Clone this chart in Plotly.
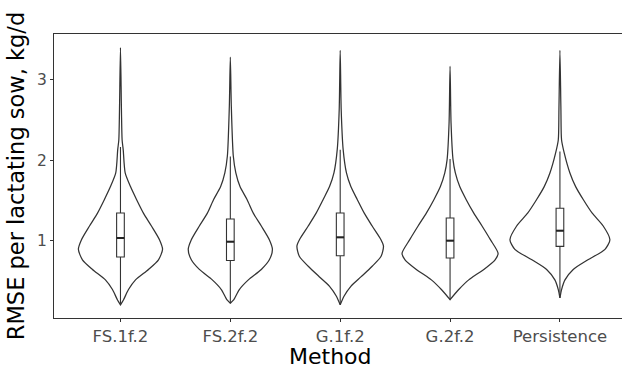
import plotly.graph_objects as go

methods = ["FS.1f.2", "FS.2f.2", "G.1f.2", "G.2f.2", "Persistence"]

# Violin outlines: RMSE level and half-width (in category units)
fs1_y  = [3.40, 2.61, 2.25, 2.13, 1.84, 1.67, 1.51, 1.34, 1.18, 1.01, 0.89, 0.76, 0.64, 0.51, 0.39, 0.26, 0.20]
fs1_hw = [0.0, 0.009, 0.015, 0.025, 0.043, 0.091, 0.146, 0.209, 0.282, 0.355, 0.383, 0.346, 0.255, 0.137, 0.073, 0.027, 0.0]

fs2_y  = [3.28, 2.67, 2.05, 1.84, 1.67, 1.51, 1.34, 1.18, 1.01, 0.89, 0.76, 0.64, 0.51, 0.39, 0.26, 0.22]
fs2_hw = [0.0, 0.009, 0.027, 0.050, 0.088, 0.152, 0.209, 0.282, 0.355, 0.383, 0.355, 0.282, 0.164, 0.082, 0.030, 0.0]

g1_y  = [3.365, 2.63, 2.13, 1.84, 1.67, 1.51, 1.34, 1.18, 1.01, 0.93, 0.80, 0.68, 0.55, 0.43, 0.31, 0.20]
g1_hw = [0.0, 0.009, 0.027, 0.057, 0.097, 0.155, 0.219, 0.291, 0.371, 0.394, 0.371, 0.291, 0.191, 0.097, 0.036, 0.0]

g2_y  = [3.166, 2.46, 2.005, 1.84, 1.67, 1.51, 1.34, 1.18, 1.01, 0.84, 0.76, 0.64, 0.51, 0.39, 0.264]
g2_hw = [0.0, 0.009, 0.027, 0.048, 0.088, 0.146, 0.216, 0.291, 0.367, 0.437, 0.410, 0.307, 0.170, 0.079, 0.0]

per_y  = [3.365, 2.63, 2.25, 2.09, 1.84, 1.67, 1.51, 1.34, 1.18, 1.01, 0.89, 0.76, 0.64, 0.51, 0.39, 0.285]
per_hw = [0.0, 0.009, 0.015, 0.039, 0.091, 0.143, 0.212, 0.294, 0.394, 0.455, 0.410, 0.255, 0.121, 0.046, 0.015, 0.0]

violin_y = [fs1_y, fs2_y, g1_y, g2_y, per_y]
violin_hw = [fs1_hw, fs2_hw, g1_hw, g2_hw, per_hw]

# Box plot statistics
q1 = [0.795, 0.752, 0.811, 0.782, 0.927]
median = [1.031, 0.985, 1.039, 0.998, 1.122]
q3 = [1.342, 1.267, 1.342, 1.280, 1.400]
lower = [0.214, 0.223, 0.201, 0.264, 0.285]
upper = [2.163, 2.046, 2.129, 2.014, 2.108]

yticks = [1, 2, 3]

line_col = "#333333"
fig = go.Figure()

# Boxes (box layer is drawn beneath scatter layer, so violins are outline-only)
for i in range(len(methods)):
    fig.add_trace(go.Box(
        x=[i], q1=[q1[i]], median=[median[i]], q3=[q3[i]],
        lowerfence=[lower[i]], upperfence=[upper[i]],
        width=0.07, whiskerwidth=0, fillcolor="white",
        line=dict(color=line_col, width=1.1), showlegend=False,
        boxpoints=False, hoverinfo="skip"))

for i, (ys, hws) in enumerate(zip(violin_y, violin_hw)):
    xs = [i - h for h in hws] + [i + h for h in reversed(hws)]
    yy = list(ys) + list(reversed(ys))
    fig.add_trace(go.Scatter(
        x=xs, y=yy, mode="lines",
        line=dict(color=line_col, width=1.25, shape="spline", smoothing=0.7),
        showlegend=False, hoverinfo="skip"))

for i in range(len(methods)):
    fig.add_trace(go.Scatter(
        x=[i - 0.035, i + 0.035], y=[median[i], median[i]], mode="lines",
        line=dict(color="#222222", width=2), showlegend=False, hoverinfo="skip"))

fig.update_layout(
    width=622, height=368,
    margin=dict(l=54, r=0, t=34, b=50),
    paper_bgcolor="white", plot_bgcolor="white",
    font=dict(family="DejaVu Sans", color="black"),
    xaxis=dict(
        range=[-0.605, 4.565], tickvals=list(range(len(methods))), ticktext=methods,
        showline=True, linecolor=line_col, linewidth=1.1, mirror=True,
        ticks="outside", ticklen=3, tickcolor=line_col, showgrid=False, zeroline=False,
        tickfont=dict(size=16.5, color="#4d4d4d")),
    yaxis=dict(
        range=[0.036, 3.568], tickvals=yticks, ticktext=[str(v) for v in yticks],
        showline=True, linecolor=line_col, linewidth=1.1,
        ticks="outside", ticklen=3, tickcolor=line_col, showgrid=False, zeroline=False,
        tickfont=dict(size=15.5, color="#4d4d4d"),
        title=dict(text="RMSE per lactating sow, kg/d", font=dict(size=22.5, color="black"), standoff=6)),
    annotations=[dict(text="Method", xref="paper", yref="paper", x=0.486, y=-0.136,
                      xanchor="center", yanchor="middle", showarrow=False, borderpad=0,
                      font=dict(size=22, color="black"))],
)

fig.write_html("out.html")
